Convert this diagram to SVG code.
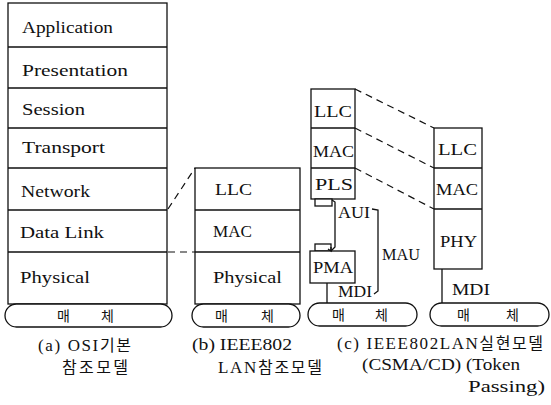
<svg xmlns="http://www.w3.org/2000/svg" width="551" height="405" viewBox="0 0 551 405">
<style>
.box{fill:#fff;stroke:#111;stroke-width:1.3}
.ln{fill:none;stroke:#111;stroke-width:1.3}
.dash{fill:none;stroke:#111;stroke-width:1.2;stroke-dasharray:7 5}
.t{font-family:'Liberation Serif','DejaVu Serif',serif;font-size:17px;fill:#111}
.k{font-family:'Noto Sans CJK KR',sans-serif;font-size:14px;fill:#111}
.c{font-family:'Liberation Serif','DejaVu Serif',serif;font-size:17px;fill:#111}
.ck{font-family:'Noto Sans CJK KR',sans-serif;font-size:16px}
</style>
<rect width="551" height="405" fill="#fff"/>
<g id="osi">
<rect class="box" x="8" y="3" width="159" height="301"/>
<path class="ln" d="M8,47H167M8,88H167M8,128H167M8,168H167M8,210H167M8,252H167"/>
<text class="t" x="22" y="33" textLength="91" lengthAdjust="spacingAndGlyphs">Application</text>
<text class="t" x="22" y="76" textLength="106" lengthAdjust="spacingAndGlyphs">Presentation</text>
<text class="t" x="22" y="115" textLength="63" lengthAdjust="spacingAndGlyphs">Session</text>
<text class="t" x="22" y="153" textLength="83" lengthAdjust="spacingAndGlyphs">Transport</text>
<text class="t" x="21" y="197" textLength="69" lengthAdjust="spacingAndGlyphs">Network</text>
<text class="t" x="20" y="238" textLength="84" lengthAdjust="spacingAndGlyphs">Data Link</text>
<text class="t" x="20" y="283" textLength="70" lengthAdjust="spacingAndGlyphs">Physical</text>
</g>
<g id="media-a">
<rect class="box" x="5" y="304" width="167" height="23" rx="11.5"/>
<text class="k"><tspan x="57" y="321">매</tspan><tspan x="101" y="321">체</tspan></text>
</g>
<g id="ieee-ref">
<rect class="box" x="195" y="168" width="105" height="136"/>
<path class="ln" d="M195,210H300M195,252H300"/>
<text class="t" x="215" y="195" textLength="37" lengthAdjust="spacingAndGlyphs">LLC</text>
<text class="t" x="213" y="237" textLength="39" lengthAdjust="spacingAndGlyphs">MAC</text>
<text class="t" x="213" y="283" textLength="69" lengthAdjust="spacingAndGlyphs">Physical</text>
</g>
<g id="media-b">
<rect class="box" x="192" y="304" width="108" height="23" rx="11.5"/>
<text class="k"><tspan x="215" y="321">매</tspan><tspan x="261" y="321">체</tspan></text>
</g>
<g id="csma">
<rect class="box" x="311" y="89" width="44" height="110"/>
<path class="ln" d="M311,128H355M311,168H355"/>
<text class="t" x="314" y="117" textLength="38" lengthAdjust="spacingAndGlyphs">LLC</text>
<text class="t" x="313" y="157" textLength="41" lengthAdjust="spacingAndGlyphs">MAC</text>
<text class="t" x="315" y="190" textLength="38" lengthAdjust="spacingAndGlyphs">PLS</text>
<rect class="box" x="315" y="199" width="17" height="7"/>
<rect class="box" x="315" y="244" width="16" height="7"/>
<rect class="box" x="310" y="251" width="45" height="32"/>
<text class="t" x="313" y="273" textLength="40" lengthAdjust="spacingAndGlyphs">PMA</text>
</g>
<g id="media-c">
<rect class="box" x="308" y="303" width="109" height="23" rx="11.5"/>
<text class="k"><tspan x="332" y="320">매</tspan><tspan x="375" y="320">체</tspan></text>
</g>
<g id="token">
<rect class="box" x="434" y="128" width="48" height="141"/>
<path class="ln" d="M434,168H482M434,209H482"/>
<text class="t" x="438" y="155" textLength="39" lengthAdjust="spacingAndGlyphs">LLC</text>
<text class="t" x="436" y="195" textLength="42" lengthAdjust="spacingAndGlyphs">MAC</text>
<text class="t" x="440" y="247" textLength="37" lengthAdjust="spacingAndGlyphs">PHY</text>
</g>
<g id="media-d">
<rect class="box" x="430" y="303" width="119" height="23" rx="11.5"/>
<text class="k"><tspan x="457" y="320">매</tspan><tspan x="506" y="320">체</tspan></text>
</g>
<g id="connectors">
<path class="dash" d="M168,209L195,168"/>
<path class="dash" d="M168,252H195"/>
<path class="dash" d="M355,89L434,128M355,128L434,168M355,168L434,209"/>
<path class="ln" d="M332,200L335,202V247L331,251"/>
<path class="ln" d="M328,249L331,251L331,247"/>
<path class="ln" d="M372,209L378,210V291L374,294"/>
<path class="ln" d="M327,283V303"/>
<path class="ln" d="M442,269V303"/>
<text class="t" x="338" y="218" textLength="32" lengthAdjust="spacingAndGlyphs">AUI</text>
<text class="t" x="382" y="260" textLength="38" lengthAdjust="spacingAndGlyphs">MAU</text>
<text class="t" x="338" y="297" textLength="34" lengthAdjust="spacingAndGlyphs">MDI</text>
<text class="t" x="452" y="295" textLength="38" lengthAdjust="spacingAndGlyphs">MDI</text>
</g>
<g id="captions">
<text class="c" x="38" y="351" textLength="93" lengthAdjust="spacing">(a) OSI<tspan class="ck">기본</tspan></text>
<text class="c ck" x="62" y="373" textLength="66" lengthAdjust="spacing">참조모델</text>
<text class="c" x="192" y="350" textLength="100" lengthAdjust="spacingAndGlyphs">(b) IEEE802</text>
<text class="c" x="218" y="373" textLength="104" lengthAdjust="spacing">LAN<tspan class="ck">참조모델</tspan></text>
<text class="c" x="337" y="349" textLength="206" lengthAdjust="spacing">(c) IEEE802LAN<tspan class="ck">실현모델</tspan></text>
<text class="c" x="362" y="370" textLength="158" lengthAdjust="spacingAndGlyphs">(CSMA/CD) (Token</text>
<text class="c" x="468" y="392" textLength="77" lengthAdjust="spacingAndGlyphs">Passing)</text>
</g>
</svg>
